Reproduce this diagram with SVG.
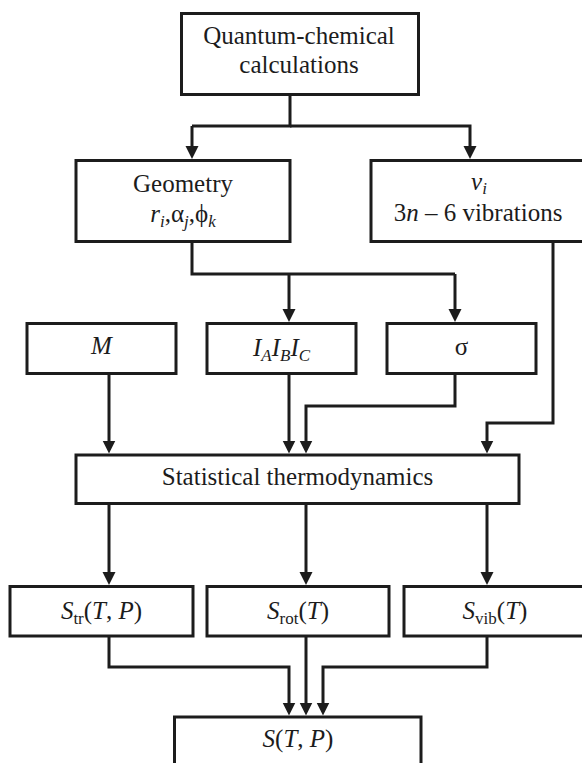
<svg xmlns="http://www.w3.org/2000/svg" width="582" height="763" viewBox="0 0 582 763">
<style>
.box{fill:#fff;stroke:#1c1c1c;stroke-width:3}
.con{fill:none;stroke:#1c1c1c;stroke-width:3}
.arr{marker-end:url(#ah)}
text{font-family:'Liberation Serif','Times New Roman',serif;font-size:25px;fill:#1c1c1c;text-anchor:middle}
.i{font-style:italic}
.sub{font-size:17px}
</style>
<defs>
<marker id="ah" markerUnits="userSpaceOnUse" markerWidth="14" markerHeight="14" refX="9" refY="6.5" orient="auto">
<path d="M0,0 L13,6.5 L0,13 z" fill="#1c1c1c"/>
</marker>
</defs>
<rect width="582" height="763" fill="#fff"/>
<g id="connectors">
<path class="con" d="M290,95 V126 H192"/>
<path class="con arr" d="M192,126 V155"/>
<path class="con arr" d="M290,126 H470 V155"/>
<path class="con" d="M192,242 V274 H455"/>
<path class="con arr" d="M289,274 V318"/>
<path class="con arr" d="M455,274 V318"/>
<path class="con arr" d="M109,374 V449.5"/>
<path class="con arr" d="M289,374 V449.5"/>
<path class="con arr" d="M455,374 V406 H306 V449.5"/>
<path class="con arr" d="M553,242 V423 H487 V449.5"/>
<path class="con arr" d="M109,504 V581"/>
<path class="con arr" d="M306,504 V581"/>
<path class="con arr" d="M487,504 V581"/>
<path class="con arr" d="M109,636 V667 H289 V711.5"/>
<path class="con arr" d="M306,636 V711.5"/>
<path class="con arr" d="M487,636 V667 H323 V711.5"/>
</g>
<g id="n-quantum">
<rect class="box" x="181.5" y="13.5" width="237" height="81"/>
<text x="299" y="44">Quantum-chemical</text>
<text x="299" y="72.5">calculations</text>
</g>
<g id="n-geometry">
<rect class="box" x="76" y="160.5" width="214" height="81"/>
<text x="183" y="192">Geometry</text>
<text x="183" y="222"><tspan class="i">r</tspan><tspan class="sub i" dy="5">i</tspan><tspan dy="-5">,α</tspan><tspan class="sub i" dy="5">j</tspan><tspan dy="-5">,ϕ</tspan><tspan class="sub i" dy="5">k</tspan></text>
</g>
<g id="n-vib">
<rect class="box" x="371" y="160.5" width="216" height="81"/>
<text x="479" y="190"><tspan class="i">v</tspan><tspan class="sub i" dy="4">i</tspan></text>
<text x="478" y="221">3<tspan class="i">n</tspan> – 6 vibrations</text>
</g>
<g id="n-m">
<rect class="box" x="27" y="323.5" width="149" height="50"/>
<text class="i" x="101.5" y="354">M</text>
</g>
<g id="n-inertia">
<rect class="box" x="207" y="323.5" width="149" height="50"/>
<text class="i" x="281.5" y="356">I<tspan class="sub" dy="5">A</tspan><tspan dy="-5">I</tspan><tspan class="sub" dy="5">B</tspan><tspan dy="-5">I</tspan><tspan class="sub" dy="5">C</tspan></text>
</g>
<g id="n-sigma">
<rect class="box" x="387" y="323.5" width="149" height="50"/>
<text x="461.5" y="355">σ</text>
</g>
<g id="n-stat">
<rect class="box" x="76" y="455" width="443" height="48.5"/>
<text x="297.5" y="485">Statistical thermodynamics</text>
</g>
<g id="n-str">
<rect class="box" x="10" y="586.5" width="183" height="49.5"/>
<text x="101.5" y="619"><tspan class="i">S</tspan><tspan class="sub" dy="5">tr</tspan><tspan dy="-5">(</tspan><tspan class="i">T</tspan>, <tspan class="i">P</tspan>)</text>
</g>
<g id="n-srot">
<rect class="box" x="207" y="586.5" width="182" height="49.5"/>
<text x="298" y="619"><tspan class="i">S</tspan><tspan class="sub" dy="5">rot</tspan><tspan dy="-5">(</tspan><tspan class="i">T</tspan>)</text>
</g>
<g id="n-svib">
<rect class="box" x="404" y="586.5" width="186" height="49.5"/>
<text x="495" y="619"><tspan class="i">S</tspan><tspan class="sub" dy="5">vib</tspan><tspan dy="-5">(</tspan><tspan class="i">T</tspan>)</text>
</g>
<g id="n-stp">
<rect class="box" x="174.5" y="717" width="246.5" height="60"/>
<text x="298" y="747"><tspan class="i">S</tspan>(<tspan class="i">T</tspan>, <tspan class="i">P</tspan>)</text>
</g>
</svg>
